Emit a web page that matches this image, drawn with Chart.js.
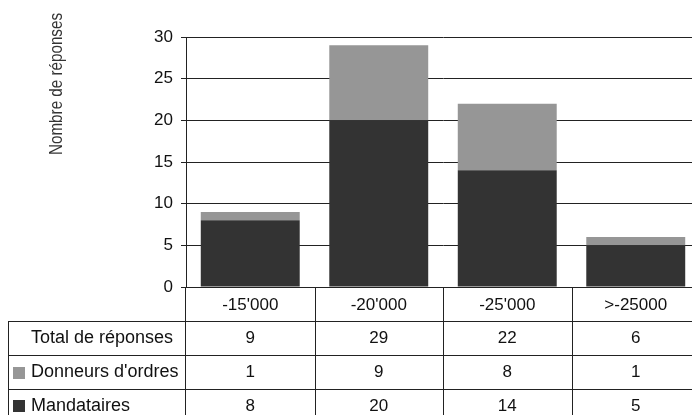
<!DOCTYPE html>
<html>
<head>
<meta charset="utf-8">
<script src="https://cdn.jsdelivr.net/npm/chart.js@4"></script>
<style>
  html, body { margin: 0; padding: 0; background: #fff; overflow: hidden; }
  #wrap { width: 700px; height: 415px; }
</style>
</head>
<body>
<div id="wrap"><canvas id="graf" width="700" height="415"></canvas></div>
<script>
const categorias = ["-15'000", "-20'000", "-25'000", ">-25000"];
const mandataires = [8, 20, 14, 5];
const donneurs = [1, 9, 8, 1];
const totaux = [9, 29, 22, 6];
const ticksY = [0, 5, 10, 15, 20, 25, 30];

const police = "'Liberation Sans', Arial, sans-serif";
const couleurTrait = '#222';

// titre vertical + tableau sous le graphique
const tableauPlugin = {
    id: 'tableau',
    afterDraw(chart) {
        const ctx = chart.ctx;
        const x = chart.scales.x;
        const zone = chart.chartArea;
        const n = categorias.length;
        const pas = (zone.right - zone.left) / n;
        const hautTete = 321.5;
        const lignes = [hautTete, 355.5, 389.5, 423];
        const bas = 415;

        ctx.save();
        ctx.strokeStyle = couleurTrait;
        ctx.lineWidth = 1;
        ctx.beginPath();
        // prolongation de l'axe Y jusqu'en bas
        ctx.moveTo(zone.left - 0.5, zone.bottom);
        ctx.lineTo(zone.left - 0.5, bas);
        // séparateurs de colonnes
        for (let i = 1; i <= n; i++) {
            const xx = Math.round(zone.left + pas * i) + 0.5;
            ctx.moveTo(xx, zone.bottom);
            ctx.lineTo(xx, bas);
        }
        // lignes horizontales du tableau
        for (let i = 0; i < 3; i++) {
            ctx.moveTo(8, lignes[i]);
            ctx.lineTo(zone.right, lignes[i]);
        }
        ctx.moveTo(8.5, hautTete);
        ctx.lineTo(8.5, bas);
        ctx.stroke();

        const rangees = [
            { nom: 'Total de réponses', val: totaux, carre: null },
            { nom: "Donneurs d'ordres", val: donneurs, carre: '#969696' },
            { nom: 'Mandataires', val: mandataires, carre: '#333333' }
        ];
        ctx.textBaseline = 'middle';
        rangees.forEach((r, i) => {
            const yc = (lignes[i] + lignes[i + 1]) / 2;
            if (r.carre) {
                ctx.fillStyle = r.carre;
                ctx.fillRect(13, Math.round(yc) - 6, 12, 12);
            }
            ctx.fillStyle = '#111';
            ctx.font = '18px ' + police;
            ctx.textAlign = 'left';
            ctx.fillText(r.nom, 31, yc);
            ctx.font = '17px ' + police;
            ctx.textAlign = 'center';
            r.val.forEach((v, j) => {
                ctx.fillText(String(v), x.getPixelForValue(j), yc);
            });
        });

        // titre de l'axe Y, étroit
        ctx.translate(57, 84);
        ctx.rotate(-Math.PI / 2);
        ctx.font = "18px 'Liberation Sans Narrow', 'Arial Narrow', " + police;
        const w = ctx.measureText('Nombre de réponses').width;
        ctx.scale(142 / w, 1);
        ctx.textAlign = 'center';
        ctx.fillStyle = '#333';
        ctx.fillText('Nombre de réponses', 0, 0);
        ctx.restore();
    }
};

new Chart(document.getElementById('graf'), {
    type: 'bar',
    data: {
        labels: categorias,
        datasets: [
            { label: 'Mandataires', data: mandataires, backgroundColor: '#333333' },
            { label: "Donneurs d'ordres", data: donneurs, backgroundColor: '#969696' }
        ]
    },
    options: {
        responsive: false,
        animation: false,
        layout: { padding: { left: 0, top: 37, right: 0, bottom: 94 } },
        datasets: { bar: { categoryPercentage: 1, barPercentage: 0.77 } },
        plugins: { legend: { display: false }, tooltip: { enabled: false } },
        scales: {
            x: {
                stacked: true,
                grid: { display: false },
                border: { color: couleurTrait, width: 1 },
                ticks: { color: '#111', font: { size: 17, family: police }, padding: 0, maxRotation: 0 },
                afterFit(s) { s.height = 34; }
            },
            y: {
                stacked: true,
                min: 0,
                max: 30,
                afterBuildTicks(s) { s.ticks = ticksY.map(v => ({ value: v })); },
                grid: { color: couleurTrait, lineWidth: 1, tickLength: 5 },
                border: { color: couleurTrait, width: 1 },
                ticks: { color: '#111', font: { size: 17, family: police }, padding: 8 },
                afterFit(s) { s.width = 186; }
            }
        }
    },
    plugins: [tableauPlugin]
});
</script>
</body>
</html>
